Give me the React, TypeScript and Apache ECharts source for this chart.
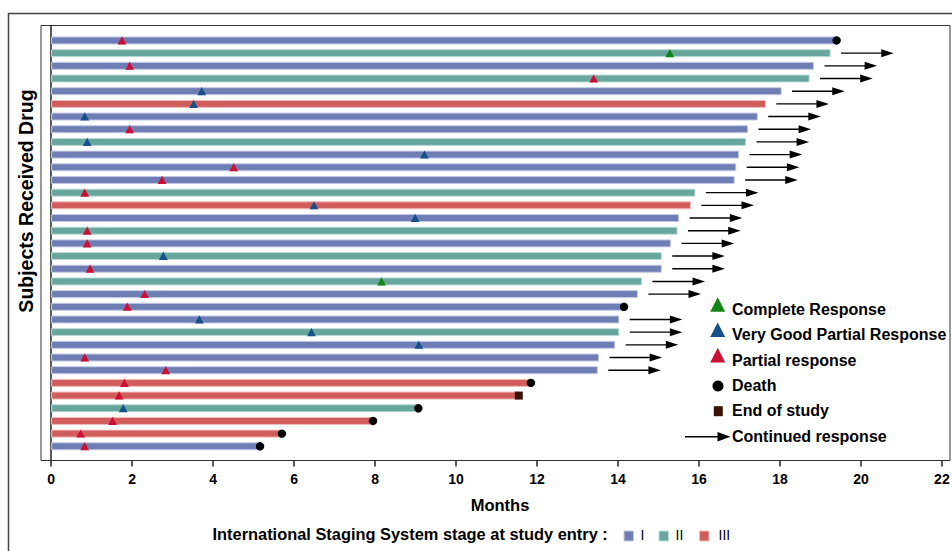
import React, { useEffect, useRef } from 'react';
import * as echarts from 'echarts';

// ---------- data ----------
const stageNames = ['I', 'II', 'III'];
const subjectStage = ['I', 'II', 'I', 'II', 'I', 'III', 'I', 'I', 'II', 'I', 'I', 'I', 'II', 'III', 'I', 'II', 'I', 'II', 'I', 'II', 'I', 'I', 'I', 'II', 'I', 'I', 'I', 'III', 'III', 'II', 'III', 'III', 'I'];
const monthsOnDrug = [19.4, 19.24, 18.83, 18.72, 18.03, 17.64, 17.44, 17.2, 17.15, 16.98, 16.91, 16.87, 15.9, 15.79, 15.5, 15.46, 15.3, 15.07, 15.07, 14.58, 14.48, 14.15, 14.02, 14.02, 13.92, 13.52, 13.49, 11.85, 11.55, 9.07, 7.95, 5.7, 5.16];
const responseMonth = [1.75, 15.28, 1.94, 13.4, 3.72, 3.52, 0.83, 1.94, 0.89, 9.22, 4.51, 2.74, 0.83, 6.49, 8.99, 0.89, 0.89, 2.77, 0.96, 8.16, 2.31, 1.88, 3.66, 6.43, 9.08, 0.83, 2.83, 1.81, 1.68, 1.78, 1.52, 0.73, 0.83];
const responseType = ['PR', 'CR', 'PR', 'PR', 'VGPR', 'VGPR', 'VGPR', 'PR', 'VGPR', 'VGPR', 'PR', 'PR', 'PR', 'VGPR', 'VGPR', 'PR', 'PR', 'VGPR', 'PR', 'CR', 'PR', 'PR', 'VGPR', 'VGPR', 'VGPR', 'PR', 'PR', 'PR', 'PR', 'VGPR', 'PR', 'PR', 'PR'];
const outcome = ['Death', 'Cont', 'Cont', 'Cont', 'Cont', 'Cont', 'Cont', 'Cont', 'Cont', 'Cont', 'Cont', 'Cont', 'Cont', 'Cont', 'Cont', 'Cont', 'Cont', 'Cont', 'Cont', 'Cont', 'Cont', 'Death', 'Cont', 'Cont', 'Cont', 'Cont', 'Cont', 'Death', 'End', 'Death', 'Death', 'Death', 'Death'];
const responseKinds = ['CR', 'VGPR', 'PR'];
const outcomeKinds = ['Death', 'End', 'Cont'];
const xTicks = [0, 2, 4, 6, 8, 10, 12, 14, 16, 18, 20, 22];
const legendLabels = ['Complete Response', 'Very Good Partial Response', 'Partial response', 'Death', 'End of study', 'Continued response'];
const stageLegendTitle = 'International Staging System stage at study entry :';
const yTitle = 'Subjects Received Drug';
const xTitle = 'Months';

// ---------- styles ----------
const FONT = '"Liberation Sans", Arial, Helvetica, sans-serif';
const stageFill = ['#6e7eb5', '#66a69c', '#d15c5c'];
const stageEdge = ['#c5cae4', '#bddbd6', '#efbcbc'];
const respColor = ['#148514', '#16508a', '#cc0f35'];
const deathColor = '#000000';
const endColor = '#3a1205';

export default function App() {
  const ref = useRef<HTMLDivElement>(null);

  useEffect(() => {
    if (!ref.current) return;
    const chart = echarts.init(ref.current, undefined, { renderer: 'svg' });

    const rows = monthsOnDrug.map((d, i) => [
      i,
      d,
      responseMonth[i],
      responseKinds.indexOf(responseType[i]),
      stageNames.indexOf(subjectStage[i]),
      outcomeKinds.indexOf(outcome[i]),
    ]);

    const renderItem = (_params: any, api: any) => {
      const i = api.value(0);
      const dur = api.value(1);
      const rm = api.value(2);
      const rk = api.value(3);
      const st = api.value(4);
      const oc = api.value(5);
      const [x0, yc] = api.coord([0, i]);
      const [x1] = api.coord([dur, i]);
      const [xr] = api.coord([rm, i]);
      const children: any[] = [
        {
          type: 'rect',
          shape: { x: x0 + 0.5, y: yc - 3.5, width: x1 - x0 - 0.5, height: 7 },
          style: { fill: stageFill[st], stroke: stageEdge[st], lineWidth: 1 },
        },
        {
          type: 'polygon',
          shape: { points: [[xr, yc - 4.2], [xr - 4.4, yc + 4], [xr + 4.4, yc + 4]] },
          style: { fill: respColor[rk] },
        },
      ];
      if (oc === 0) {
        children.push({ type: 'circle', shape: { cx: x1, cy: yc, r: 4.2 }, style: { fill: deathColor } });
      } else if (oc === 1) {
        children.push({ type: 'rect', shape: { x: x1 - 4, y: yc - 4, width: 8, height: 8 }, style: { fill: endColor } });
      } else {
        const [a0] = api.coord([dur + 0.27, i]);
        const [tip] = api.coord([dur + 1.57, i]);
        children.push({ type: 'line', shape: { x1: a0, y1: yc, x2: tip - 10, y2: yc }, style: { stroke: '#000', lineWidth: 1.4 } });
        children.push({ type: 'polygon', shape: { points: [[tip, yc], [tip - 12.5, yc - 4], [tip - 12.5, yc + 4]] }, style: { fill: '#000' } });
      }
      return { type: 'group', children };
    };

    // right-hand legend
    const lgX = 717.7;
    const lgText = 732;
    const lgY = (k: number) => 309.5 + k * 25.3;
    const legendGraphics: any[] = [];
    respColor.forEach((c, k) => {
      const yc = lgY(k) - 5;
      legendGraphics.push({
        type: 'polygon',
        shape: { points: [[lgX, yc - 7.3], [lgX - 7.5, yc + 7.3], [lgX + 7.5, yc + 7.3]] },
        style: { fill: c },
      });
    });
    legendGraphics.push({ type: 'circle', shape: { cx: 718, cy: lgY(3) + 0.7, r: 5.5 }, style: { fill: deathColor } });
    legendGraphics.push({ type: 'rect', shape: { x: 713.8, y: lgY(4) - 4.5, width: 9, height: 10 }, style: { fill: endColor } });
    legendGraphics.push({ type: 'line', shape: { x1: 685, y1: lgY(5) + 0.8, x2: 720, y2: lgY(5) + 0.8 }, style: { stroke: '#000', lineWidth: 1.4 } });
    legendGraphics.push({ type: 'polygon', shape: { points: [[730.5, lgY(5) + 0.8], [717.5, lgY(5) - 4], [717.5, lgY(5) + 5.6]] }, style: { fill: '#000' } });
    legendLabels.forEach((t, k) => {
      legendGraphics.push({
        type: 'text',
        x: lgText,
        y: lgY(k),
        style: { text: t, fontFamily: FONT, fontSize: 16, fontWeight: 'bold', fill: '#000', align: 'left', verticalAlign: 'middle' },
      });
    });

    // bottom stage legend
    const stageGraphics: any[] = [
      {
        type: 'text',
        x: 212.5,
        y: 534,
        style: { text: stageLegendTitle, fontFamily: FONT, fontSize: 16.4, fontWeight: 'bold', fill: '#000', align: 'left', verticalAlign: 'middle' },
      },
    ];
    const swX = [624, 659, 699.5];
    const swLabelX = [640.5, 675.5, 718.5];
    stageNames.forEach((s, k) => {
      stageGraphics.push({
        type: 'rect',
        shape: { x: swX[k], y: 531, width: 9.5, height: 10 },
        style: { fill: stageFill[k], stroke: stageEdge[k], lineWidth: 1 },
      });
      stageGraphics.push({
        type: 'text',
        x: swLabelX[k],
        y: 535,
        style: { text: s, fontFamily: FONT, fontSize: 14, fill: '#000', align: 'left', verticalAlign: 'middle' },
      });
    });

    chart.setOption({
      animation: false,
      backgroundColor: '#ffffff',
      grid: {
        left: 41,
        right: 2,
        top: 25.5,
        bottom: 90.5,
        show: true,
        borderColor: '#333',
        borderWidth: 1,
        outerBoundsMode: 'none',
      },
      xAxis: {
        type: 'value',
        min: -0.25,
        max: 22.2,
        axisLine: { show: false, onZero: false },
        axisTick: { show: true, length: 6, customValues: xTicks, lineStyle: { color: '#222', width: 1.5 } },
        axisLabel: { customValues: xTicks, fontFamily: FONT, fontSize: 14, fontWeight: 'bold', color: '#000', margin: 11 },
        splitLine: { show: false },
      },
      yAxis: {
        type: 'value',
        inverse: true,
        min: -1.18,
        max: 33.12,
        axisLine: { show: true, onZero: true, lineStyle: { color: '#222', width: 1.5 } },
        axisTick: { show: false },
        axisLabel: { show: false },
        splitLine: { show: false },
      },
      series: [
        {
          type: 'custom',
          renderItem,
          data: rows,
          encode: { x: [1, 2], y: 0 },
          clip: false,
          silent: true,
          z: 3,
        },
      ],
      graphic: [
        {
          type: 'rect',
          shape: { x: 8.5, y: 13.5, width: 1000, height: 600 },
          style: { fill: 'none', stroke: '#444', lineWidth: 1.5 },
          z: -1,
          silent: true,
        },
        {
          type: 'text',
          x: 26,
          y: 201,
          rotation: Math.PI / 2,
          style: { text: yTitle, fontFamily: FONT, fontSize: 19.5, fontWeight: 'bold', fill: '#000', align: 'center', verticalAlign: 'middle' },
        },
        {
          type: 'text',
          x: 500,
          y: 505,
          style: { text: xTitle, fontFamily: FONT, fontSize: 16.5, fontWeight: 'bold', fill: '#000', align: 'center', verticalAlign: 'middle' },
        },
        ...legendGraphics,
        ...stageGraphics,
      ],
    });

    return () => chart.dispose();
  }, []);

  return <div ref={ref} style={{ position: 'fixed', left: 0, top: 0, width: 952, height: 551 }} />;
}
